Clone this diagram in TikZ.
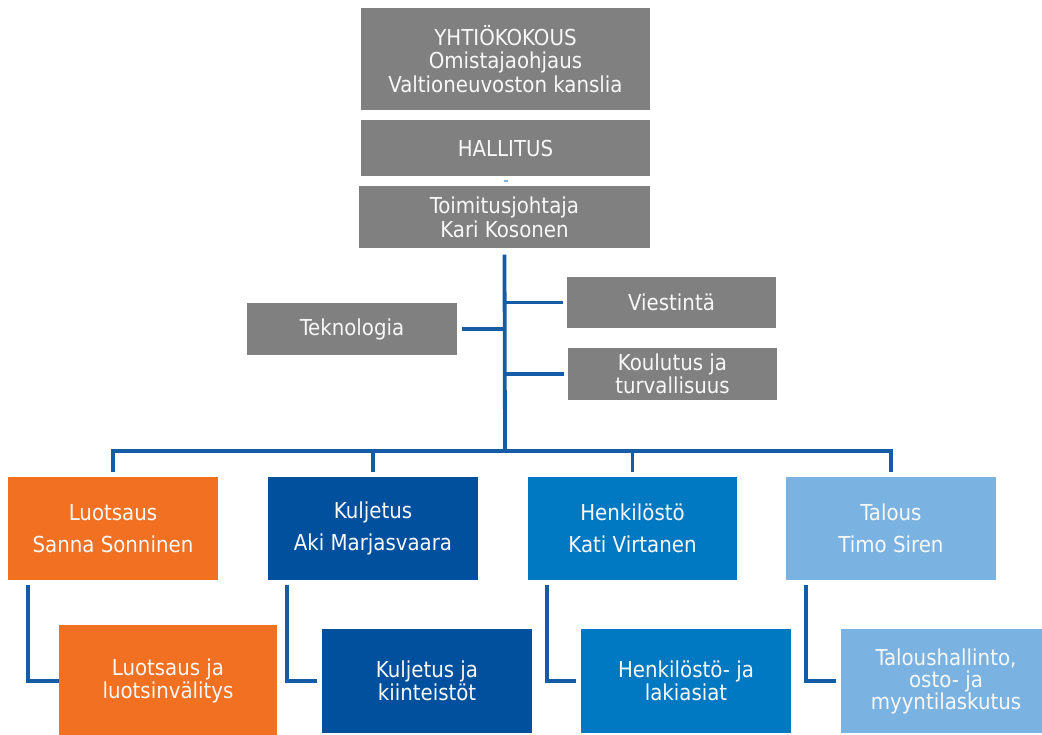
\documentclass[tikz,border=0pt]{standalone}
\usepackage{fontspec}
\setmainfont{DejaVu Sans Condensed}
\definecolor{boxgray}{RGB}{128,128,128}
\definecolor{orng}{RGB}{242,112,33}
\definecolor{dblue}{RGB}{0,80,158}
\definecolor{mblue}{RGB}{0,121,194}
\definecolor{lblue}{RGB}{122,179,225}
\definecolor{conncol}{RGB}{20,92,165}
\definecolor{txtcol}{RGB}{248,248,248}
\tikzset{
  orgbox/.style={rectangle, inner sep=0pt, align=center, text=txtcol,
    font=\fontsize{22}{23.5}\selectfont},
  graybox/.style={orgbox, fill=boxgray},
  conn/.style={draw=conncol, line width=3.8pt},
  subconn/.style={draw=conncol, line width=3.4pt},
}
\begin{document}
\begin{tikzpicture}[x=1pt,y=-1pt]
\useasboundingbox (0,0) rectangle (1042,735);
\clip (0,0) rectangle (1042,735);
% top boxes
\node[graybox, minimum width=289pt, minimum height=102pt] (yk) at (505.5,59) {YHTIÖKOKOUS\\Omistajaohjaus\\Valtioneuvoston kanslia};
\node[graybox, minimum width=289pt, minimum height=56pt] (hal) at (505.5,148) {HALLITUS};
\node[graybox, minimum width=291pt, minimum height=62pt] (tj) at (504.5,217.5) {Toimitusjohtaja\\Kari Kosonen};
\draw[draw=lblue, line width=1.8pt] ([xshift=-2pt,yshift=-5pt]hal.south) -- ([xshift=2pt,yshift=-5pt]hal.south);
% staff boxes
\node[graybox, minimum width=209pt, minimum height=51pt] (vie) at (671.5,302.5) {Viestintä};
\node[graybox, minimum width=210pt, minimum height=52pt] (tek) at (352,329) {Teknologia};
\node[graybox, minimum width=209pt, minimum height=52pt] (kou) at (672.5,374) {Koulutus ja\\turvallisuus};
% row boxes
\node[orgbox, fill=orng, minimum width=210pt, minimum height=103pt] (luo) at (113,528.5) {Luotsaus\\[8.5pt]Sanna Sonninen};
\node[orgbox, fill=dblue, minimum width=210pt, minimum height=103pt] (kul) at (373,528.5) {Kuljetus\\[8.5pt]Aki Marjasvaara};
\node[orgbox, fill=mblue, minimum width=209pt, minimum height=103pt] (hen) at (632.5,528.5) {Henkilöstö\\[8.5pt]Kati Virtanen};
\node[orgbox, fill=lblue, minimum width=210pt, minimum height=103pt] (tal) at (891,528.5) {Talous\\[8.5pt]Timo Siren};
% sub boxes
\node[orgbox, fill=orng, minimum width=218pt, minimum height=112pt] (lu2) at (168,681) {Luotsaus ja\\luotsinvälitys};
\node[orgbox, fill=dblue, minimum width=210pt, minimum height=104pt] (ku2) at (427,681) {Kuljetus ja\\kiinteistöt};
\node[orgbox, fill=mblue, minimum width=210pt, minimum height=104pt] (he2) at (686,681) {Henkilöstö- ja\\lakiasiat};
\node[orgbox, fill=lblue, minimum width=210pt, minimum height=104pt, font=\fontsize{22}{22}\selectfont] (ta2) at (946,681) {Taloushallinto,\\osto- ja\\myyntilaskutus};
% trunk and bus
\coordinate (trunktop) at ([yshift=-6pt]tj.south);
\coordinate (bus) at (505,451);
\draw[conn] (trunktop) -- (bus);
\draw[conn] ([yshift=5pt]luo.north) |- (bus) -| ([yshift=5pt]tal.north);
\draw[conn] ([yshift=5pt]kul.north) -- (kul.north |- bus);
\draw[conn] ([yshift=5pt]hen.north) -- (hen.north |- bus);
% staff connectors
\draw[conn] (trunktop |- vie.west) -- ([xshift=-4pt]vie.west);
\draw[conn] ([xshift=5pt]tek.east) -- (trunktop |- tek.east);
\draw[conn] (trunktop |- kou.west) -- ([xshift=-4pt]kou.west);
% sub connectors
\draw[subconn] ([xshift=20pt,yshift=-5pt]luo.south west) |- (lu2.west);
\draw[subconn] ([xshift=19pt,yshift=-5pt]kul.south west) |- ([xshift=-5pt]ku2.west);
\draw[subconn] ([xshift=19pt,yshift=-5pt]hen.south west) |- ([xshift=-5pt]he2.west);
\draw[subconn] ([xshift=20pt,yshift=-5pt]tal.south west) |- ([xshift=-5pt]ta2.west);
\end{tikzpicture}
\end{document}
